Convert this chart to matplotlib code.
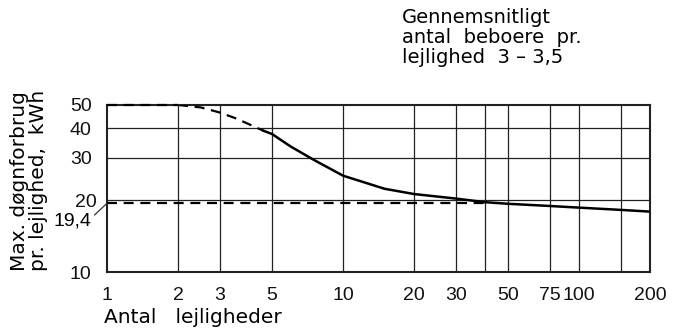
import matplotlib
matplotlib.use("Agg")
from matplotlib import pyplot as plt
from matplotlib.transforms import ScaledTranslation

plt.rcParams['font.family'] = ['Liberation Sans', 'DejaVu Sans']

# Curve data
dashed_x = [2, 2.5, 3, 3.5, 4, 4.6]
dashed_y = [50, 48.8, 46.5, 44, 41.5, 39]
solid_x = [4.6, 5, 6, 7.5, 10, 15, 20, 30, 40, 50, 75, 100, 150, 200]
solid_y = [39, 37.8, 33.5, 29.5, 25.3, 22.3, 21.2, 20.3, 19.6, 19.3, 18.9, 18.6, 18.2, 17.9]

ref_level_top = 50
ref_level = 19.4
ref_end_x = 40

x_ticks = [1, 2, 3, 5, 10, 20, 30, 50, 75, 100, 200]
x_grid = [2, 3, 5, 10, 20, 30, 40, 50, 75, 100, 150, 200]
y_ticks = [10, 20, 30, 40, 50]

fig = plt.figure(figsize=(6.73, 3.31), dpi=100)
ax = fig.add_axes([0.159, 0.178, 0.807, 0.505])

ax.set_xscale('log')
ax.set_yscale('log')
ax.set_xlim(1, 200)
ax.set_ylim(10, 50)

for gx in x_grid:
    ax.axvline(gx, color='#222222', lw=0.9, zorder=1)
for gy in [20, 30, 40]:
    ax.axhline(gy, color='#222222', lw=0.9, zorder=1)

# reference dashed lines
ax.plot([1, 2], [ref_level_top, ref_level_top], color='black', lw=1.6,
        dashes=(4.5, 3), zorder=3, clip_on=False)
ax.plot([1, ref_end_x], [ref_level, ref_level], color='black', lw=1.6,
        dashes=(4.5, 3), zorder=3)

# curve
ax.plot(dashed_x, dashed_y, color='black', lw=1.6, dashes=(4.5, 3), zorder=4)
ax.plot(solid_x, solid_y, color='black', lw=1.8, zorder=4)

ax.set_xticks(x_ticks)
ax.set_xticklabels([str(v) for v in x_ticks])
ax.set_yticks(y_ticks)
ax.set_yticklabels([str(v) for v in y_ticks])
ax.minorticks_off()
ax.tick_params(axis='both', length=0, labelsize=14, colors='#111111')
ax.tick_params(axis='x', pad=11)
ax.tick_params(axis='y', pad=11)

# the "20" label sits a little closer to the axis
for lab in ax.get_yticklabels():
    if lab.get_text() == '20':
        lab.set_transform(lab.get_transform() + ScaledTranslation(5 / 100, 0, fig.dpi_scale_trans))

for s in ax.spines.values():
    s.set_linewidth(1.5)
    s.set_color('#222222')

# 19,4 label with leader line
ax.annotate('19,4', xy=(1, ref_level), xytext=(-25, -13),
            textcoords='offset points', ha='center', va='center', fontsize=14,
            annotation_clip=False)
ax.annotate('', xy=(1, ref_level), xytext=(-9, -8.5),
            textcoords='offset points',
            arrowprops=dict(arrowstyle='-', color='#333333', lw=0.9,
                            shrinkA=0, shrinkB=0),
            annotation_clip=False)

fig.text(0.155, 0.04, 'Antal   lejligheder', fontsize=14.5, ha='left', va='center',
         family='DejaVu Sans')
fig.text(0.043, 0.455, 'Max. døgnforbrug\npr. lejlighed,  kWh', fontsize=14.5,
         rotation=90, ha='center', va='center', multialignment='left',
         linespacing=0.95, family='DejaVu Sans')
fig.text(0.597, 0.975, 'Gennemsnitligt\nantal  beboere  pr.\nlejlighed  3 – 3,5',
         fontsize=14, ha='left', va='top', linespacing=1.05, family='DejaVu Sans')

fig.savefig('out.png', dpi=100)
